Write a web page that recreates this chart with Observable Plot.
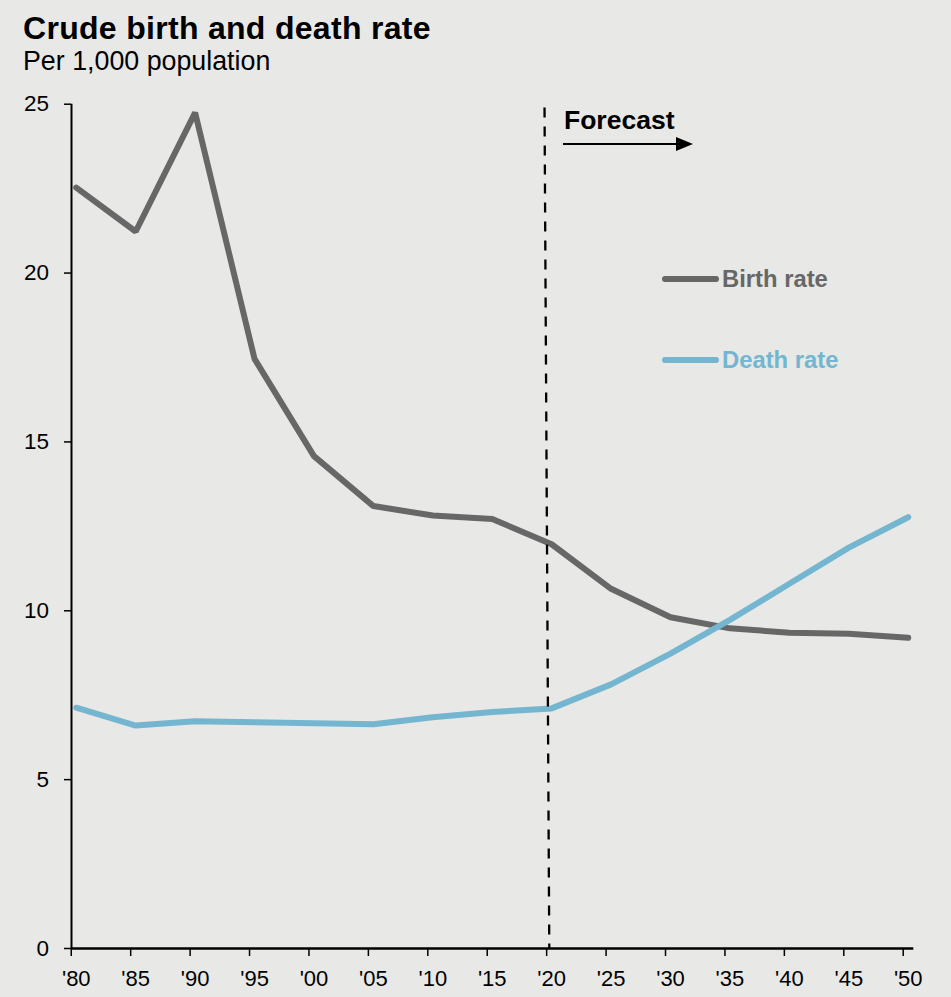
<!DOCTYPE html>
<html>
<head>
<meta charset="utf-8">
<script src="https://cdn.jsdelivr.net/npm/d3@7"></script>
<script src="https://cdn.jsdelivr.net/npm/@observablehq/plot@0.6"></script>
<style>
  html, body { margin: 0; padding: 0; background: #e8e8e6; }
  body { width: 951px; height: 997px; overflow: hidden; font-family: "Liberation Sans", Arial, sans-serif; }
  #wrap { position: relative; width: 951px; height: 997px; }
  #wrap svg { position: absolute; left: 0; top: 0; }
  .title { position: absolute; left: 23px; top: 10px; font-weight: bold; font-size: 32px; color: #000; white-space: nowrap; letter-spacing: 0.3px; }
  .subtitle { position: absolute; left: 23px; top: 46px; font-size: 26.8px; color: #000; white-space: nowrap; }
  .forecast { position: absolute; left: 564px; top: 105px; font-weight: bold; font-size: 26.5px; color: #000; white-space: nowrap; }
  .legend { position: absolute; font-weight: bold; font-size: 23.8px; white-space: nowrap; display: flex; align-items: center; }
  .legend .sw { display: inline-block; width: 57px; height: 6px; border-radius: 3px; margin-right: 3px; }
</style>
</head>
<body>
<div id="wrap"></div>
<script>
// ---- data ----
const years = [1980, 1985, 1990, 1995, 2000, 2005, 2010, 2015, 2020, 2025, 2030, 2035, 2040, 2045, 2050];
const tickLabels = ["'80", "'85", "'90", "'95", "'00", "'05", "'10", "'15", "'20", "'25", "'30", "'35", "'40", "'45", "'50"];
const birthRate = [22.53, 21.23, 24.75, 17.46, 14.58, 13.10, 12.82, 12.72, 11.97, 10.65, 9.81, 9.48, 9.35, 9.32, 9.20];
const deathRate = [7.13, 6.60, 6.73, 6.70, 6.67, 6.64, 6.85, 7.00, 7.11, 7.82, 8.73, 9.73, 10.80, 11.87, 12.77];
const seriesNames = ["Birth rate", "Death rate"];
const seriesColors = ["#676767", "#74b5d0"];
const yTicks = [0, 5, 10, 15, 20, 25];
const forecastStart = 2020;

const rows = [];
years.forEach((yr, i) => {
  rows.push({year: yr, value: birthRate[i], series: seriesNames[0]});
  rows.push({year: yr, value: deathRate[i], series: seriesNames[1]});
});

const xMin = 1979.6, xMax = 2050.47;
const labelOf = new Map(years.map((y, i) => [y, tickLabels[i]]));

const chart = Plot.plot({
  width: 951,
  height: 997,
  marginLeft: 71,
  marginRight: 37.7,
  marginTop: 103.7,
  marginBottom: 49,
  style: {background: "transparent", fontFamily: "'Liberation Sans', Arial, sans-serif", color: "#000"},
  x: {domain: [xMin, xMax]},
  y: {domain: [0, 25]},
  color: {domain: seriesNames, range: seriesColors},
  marks: [
    // x tick marks (offset slightly left of the category points, as in the original)
    Plot.axisX({ticks: years, tickSize: 8, fill: "none", stroke: "#000", strokeWidth: 1.5, dx: -5, label: null}),
    // x tick labels
    Plot.axisX({ticks: years, tickSize: 0, tickPadding: 22, tickFormat: d => labelOf.get(d), fontSize: 22, fill: "#000", label: null}),
    // y axis
    Plot.axisY({ticks: yTicks, tickSize: 7, tickPadding: 15.5, fontSize: 22.5, fill: "#000", stroke: "#000", strokeWidth: 1.5, label: null}),
    Plot.ruleX([xMin], {y1: 0, y2: 25, stroke: "#000", strokeWidth: 2}),
    Plot.ruleY([0], {stroke: "#000", strokeWidth: 2.5}),
    Plot.line(rows, {x: "year", y: "value", z: "series", stroke: "series", strokeWidth: 6, strokeLinejoin: "miter", strokeLinecap: "round"}),
    // forecast divider (slightly slanted in the original)
    Plot.link([forecastStart], {x1: d => d - 0.6, y1: 24.9, x2: d => d - 0.2, y2: 0, stroke: "#000", strokeWidth: 2.3, strokeDasharray: "10,9"})
  ]
});

const wrap = document.getElementById("wrap");
wrap.appendChild(chart);

function addDiv(cls, text, styles) {
  const d = document.createElement("div");
  d.className = cls;
  d.textContent = text;
  Object.assign(d.style, styles || {});
  wrap.appendChild(d);
  return d;
}
addDiv("title", "Crude birth and death rate");
addDiv("subtitle", "Per 1,000 population");
addDiv("forecast", "Forecast");

// forecast arrow
const ns = "http://www.w3.org/2000/svg";
const arrow = document.createElementNS(ns, "svg");
arrow.setAttribute("width", "140");
arrow.setAttribute("height", "20");
arrow.style.position = "absolute";
arrow.style.left = "560px";
arrow.style.top = "134px";
arrow.innerHTML = '<line x1="3" y1="10" x2="118" y2="10" stroke="#000" stroke-width="2.2"/><polygon points="116,3 133,10 116,17" fill="#000"/>';
wrap.appendChild(arrow);

// legend
const legendTops = [265, 346];
seriesNames.forEach((name, i) => {
  const d = document.createElement("div");
  d.className = "legend";
  d.style.left = "662px";
  d.style.top = legendTops[i] + "px";
  d.style.color = seriesColors[i];
  const sw = document.createElement("span");
  sw.className = "sw";
  sw.style.background = seriesColors[i];
  d.appendChild(sw);
  d.appendChild(document.createTextNode(name));
  wrap.appendChild(d);
});
</script>
</body>
</html>
